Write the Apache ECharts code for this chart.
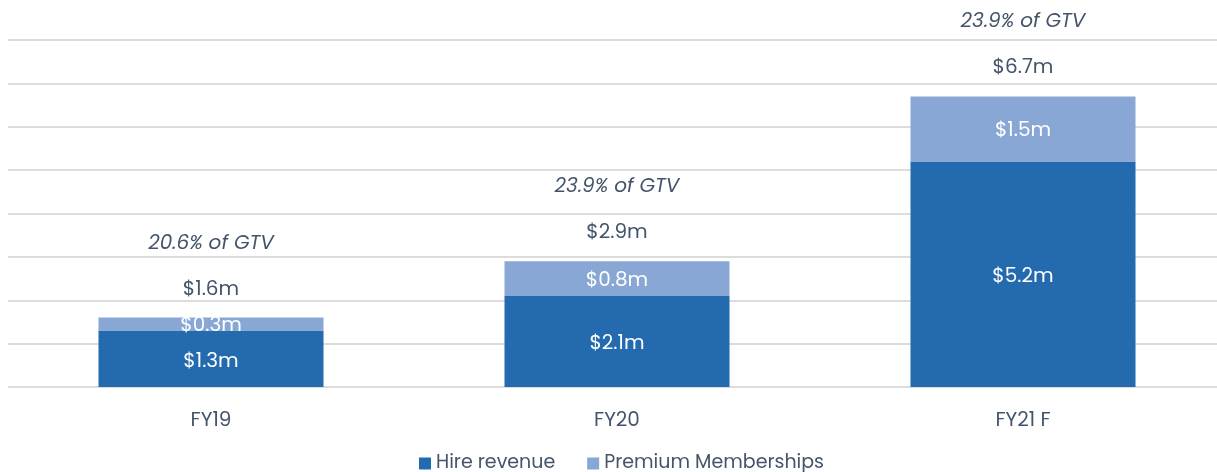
<!DOCTYPE html>
<html>
<head>
<meta charset="utf-8">
<script src="https://cdn.jsdelivr.net/npm/echarts@6/dist/echarts.min.js"></script>
<style>
  html, body { margin: 0; padding: 0; background: #fff; overflow: hidden; }
  #chart { width: 1226px; height: 472px; }
</style>
</head>
<body>
<div id="chart"></div>
<script>
const categories = ['FY19', 'FY20', 'FY21 F']
const hireRevenue = [1.3, 2.1, 5.2]
const premiumMemberships = [0.3, 0.8, 1.5]
const totals = [1.6, 2.9, 6.7]
const gtvShare = ['20.6%', '23.9%', '23.9%']

const textColor = '#44546A'
const font = 'Poppins, Lato, "Open Sans", sans-serif'

const chart = echarts.init(document.getElementById('chart'))

const money = v => '$' + v.toFixed(1) + 'm'

chart.setOption({
  animation: false,
  textStyle: { fontFamily: font },
  // plot runs a little past the right edge of the window, as in the original
  grid: { left: 8, right: 0, top: 40, bottom: 85 },
  legend: {
    data: ['Hire revenue', 'Premium Memberships'],
    top: 449,
    left: 414,
    itemWidth: 12,
    itemHeight: 12,
    itemGap: 32,
    icon: 'rect',
    textStyle: { color: textColor, fontSize: 19, fontFamily: font }
  },
  xAxis: {
    type: 'category',
    data: categories,
    axisLine: { show: false },
    axisTick: { show: false },
    axisLabel: { color: textColor, fontSize: 20, margin: 24, fontFamily: font }
  },
  yAxis: {
    type: 'value',
    min: 0,
    max: 8,
    interval: 1,
    axisLabel: { show: false },
    axisLine: { show: false },
    splitLine: { lineStyle: { color: '#DCDCDC', width: 2 } }
  },
  series: [
    {
      name: 'Hire revenue',
      type: 'bar',
      stack: 'rev',
      barWidth: 225,
      data: hireRevenue,
      itemStyle: { color: '#236AAE' },
      label: {
        show: true,
        position: 'inside',
        offset: [0, 3],
        color: '#fff',
        fontSize: 20,
        fontFamily: font,
        formatter: p => money(p.value)
      }
    },
    {
      name: 'Premium Memberships',
      type: 'bar',
      stack: 'rev',
      data: premiumMemberships,
      itemStyle: { color: '#88A7D4' },
      label: {
        show: true,
        position: 'inside',
        offset: [0, 2],
        color: '#fff',
        fontSize: 20,
        fontFamily: font,
        formatter: p => money(p.value)
      }
    },
    {
      name: 'Total',
      type: 'bar',
      stack: 'rev',
      data: [0, 0, 0],
      itemStyle: { color: 'transparent' },
      label: {
        show: true,
        position: 'top',
        distance: 16,
        formatter: p => '{g|' + gtvShare[p.dataIndex] + ' of GTV}\n{t|' + money(totals[p.dataIndex]) + '}',
        rich: {
          g: { color: textColor, fontSize: 20, fontStyle: 'italic', fontFamily: font, lineHeight: 68 },
          t: { color: textColor, fontSize: 20, fontFamily: font, lineHeight: 24 }
        }
      }
    }
  ]
})
</script>
</body>
</html>
